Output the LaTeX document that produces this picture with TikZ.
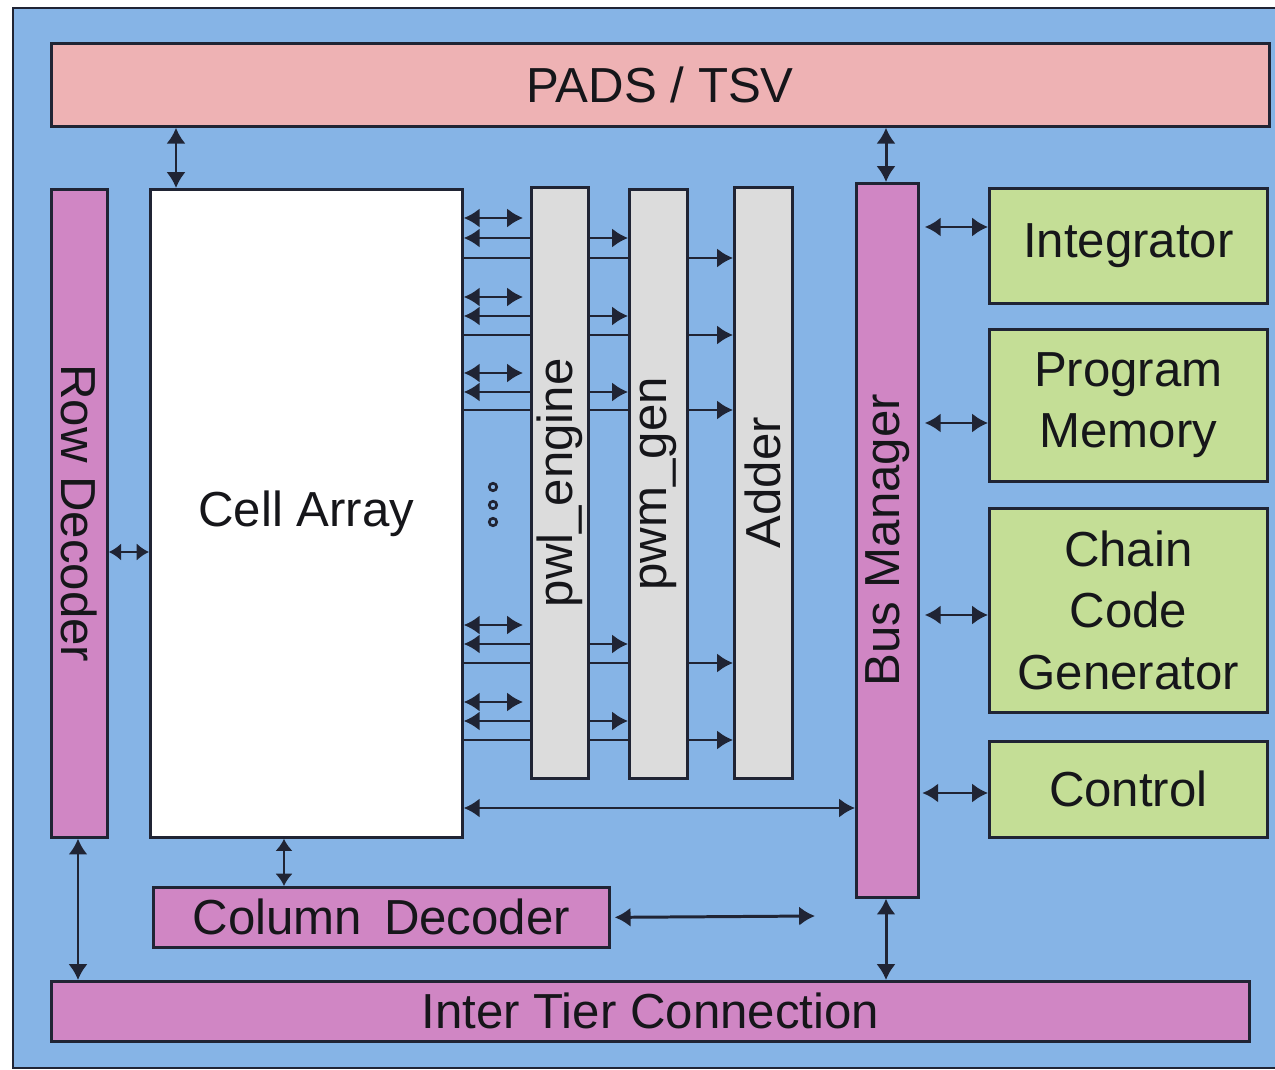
\documentclass[tikz,border=0pt]{standalone}
\usepackage{fontspec}
\setmainfont{Liberation Sans}
\usetikzlibrary{arrows.meta}
\definecolor{bgblue}{RGB}{134,180,230}
\definecolor{padpink}{RGB}{238,178,180}
\definecolor{magbox}{RGB}{208,134,196}
\definecolor{greybox}{RGB}{220,220,220}
\definecolor{greenbox}{RGB}{196,222,150}
\definecolor{linec}{RGB}{32,36,52}
\definecolor{textc}{RGB}{22,22,26}
\newcommand\bigf{\fontsize{28}{35}\selectfont}
\begin{document}
\begin{tikzpicture}[x=0.02cm,y=-0.02cm,
  box/.style={draw=linec, line width=1.6pt, inner sep=0pt, anchor=north west, font=\bigf, text=textc, align=center},
  txt/.style={font=\bigf, text=textc, inner sep=0pt},
  conn/.style={draw=linec, line width=1.7pt},
  ar/.style={conn, -{Latex[length=9pt,width=11pt]}},
  lar/.style={conn, {Latex[length=9pt,width=11pt]}-},
  dar/.style={conn, {Latex[length=9pt,width=11pt]}-{Latex[length=9pt,width=11pt]}},
  sdar/.style={conn, {Latex[length=7pt,width=10pt]}-{Latex[length=7pt,width=10pt]}}]
\useasboundingbox (0,0) rectangle (1275,1070);
\clip (0,0) rectangle (1275,1070);
\fill[white] (0,0) rectangle (1275,1070);
\draw[fill=bgblue, draw=linec, line width=1.4pt] (13,8) rectangle (1290,1068);

% blocks
\node[box, fill=padpink, minimum width=24.36cm, minimum height=1.66cm] (pads) at (50,42) {PADS / TSV};
\node[box, fill=magbox, minimum width=1.12cm, minimum height=12.96cm] (row) at (50,188) {};
\node[box, fill=white, minimum width=6.24cm, minimum height=12.96cm] (cell) at (149,188) {Cell Array};
\node[box, fill=greybox, minimum width=1.14cm, minimum height=11.82cm] (pwl) at (530,186) {};
\node[box, fill=greybox, minimum width=1.16cm, minimum height=11.78cm] (pwm) at (628,188) {};
\node[box, fill=greybox, minimum width=1.16cm, minimum height=11.82cm] (adder) at (733,186) {};
\node[box, fill=magbox, minimum width=1.24cm, minimum height=14.28cm] (bus) at (855,182) {};
\node[box, fill=greenbox, minimum width=5.56cm, minimum height=2.3cm] (integ) at (988,187) {Integrator};
\node[box, fill=greenbox, minimum width=5.56cm, minimum height=3.04cm] (prog) at (988,328) {Program\\Memory};
\node[box, fill=greenbox, minimum width=5.56cm, minimum height=4.08cm] (chain) at (988,507) {Chain\\Code\\Generator};
\node[box, fill=greenbox, minimum width=5.56cm, minimum height=1.92cm] (ctrl) at (988,740) {Control};
\node[box, fill=magbox, minimum width=9.12cm, minimum height=1.2cm] (col) at (152,886) {Column\hspace{0.45em}Decoder};
\node[box, fill=magbox, minimum width=23.96cm, minimum height=1.2cm] (inter) at (50,980) {Inter Tier Connection};

% rotated labels
\node[txt, rotate=-90] (rowlbl) at (row.center) {Row Decoder};
\node[txt, rotate=90] (pwllbl) at (pwl.center) {pwl\_engine};
\node[txt, rotate=90] (pwmlbl) at (pwm.center) {pwm\_gen};
\node[txt, rotate=90] (addlbl) at (adder.center) {Adder};
\node[txt, rotate=90] (buslbl) at (bus.center) {Bus Manager};

% dots
\foreach \y in {487,505,522}
  \draw[draw=linec, line width=1.5pt] (493,\y) circle[radius=0.075cm];

% vertical connectors
\draw[dar] (pads.south -| 176,0) -- (cell.north -| 176,0);
\draw[dar] (pads.south -| 886,0) -- (bus.north -| 886,0);
\draw[dar] (row.south -| 78,0) -- (inter.north -| 78,0);
\draw[sdar] (cell.south -| 284,0) -- (col.north -| 284,0);
\draw[dar] (bus.south -| 886,0) -- (inter.north -| 886,0);

% horizontal connectors
\draw[sdar] (row.east |- 0,552) -- (cell.west |- 0,552);
\draw[dar] (cell.east |- 0,808) -- (bus.west |- 0,808);
\coordinate (colend) at (815,916);
\draw[dar, shorten <=0.08cm] (col.east) -- (colend);
\draw[dar, shorten <=0.1cm] (bus.east |- 0,227) -- (integ.west |- 0,227);
\draw[dar, shorten <=0.1cm] (bus.east |- 0,423) -- (prog.west |- 0,423);
\draw[dar, shorten <=0.1cm] (bus.east |- 0,615) -- (chain.west |- 0,615);
\draw[dar, shorten <=0.05cm] (bus.east |- 0,793) -- (ctrl.west |- 0,793);

% datapath connectors
\foreach \a/\b/\c in {218/238/258, 297/316/335, 373/392/410, 625/644/663, 702/721/740} {
  \draw[dar, shorten >=0.14cm] (cell.east |- 0,\a) -- (pwl.west |- 0,\a);
  \draw[lar] (cell.east |- 0,\b) -- (pwl.west |- 0,\b);
  \draw[ar] (pwl.east |- 0,\b) -- (pwm.west |- 0,\b);
  \draw[conn] (cell.east |- 0,\c) -- (pwl.west |- 0,\c);
  \draw[conn] (pwl.east |- 0,\c) -- (pwm.west |- 0,\c);
  \draw[ar] (pwm.east |- 0,\c) -- (adder.west |- 0,\c);
}
\end{tikzpicture}
\end{document}
